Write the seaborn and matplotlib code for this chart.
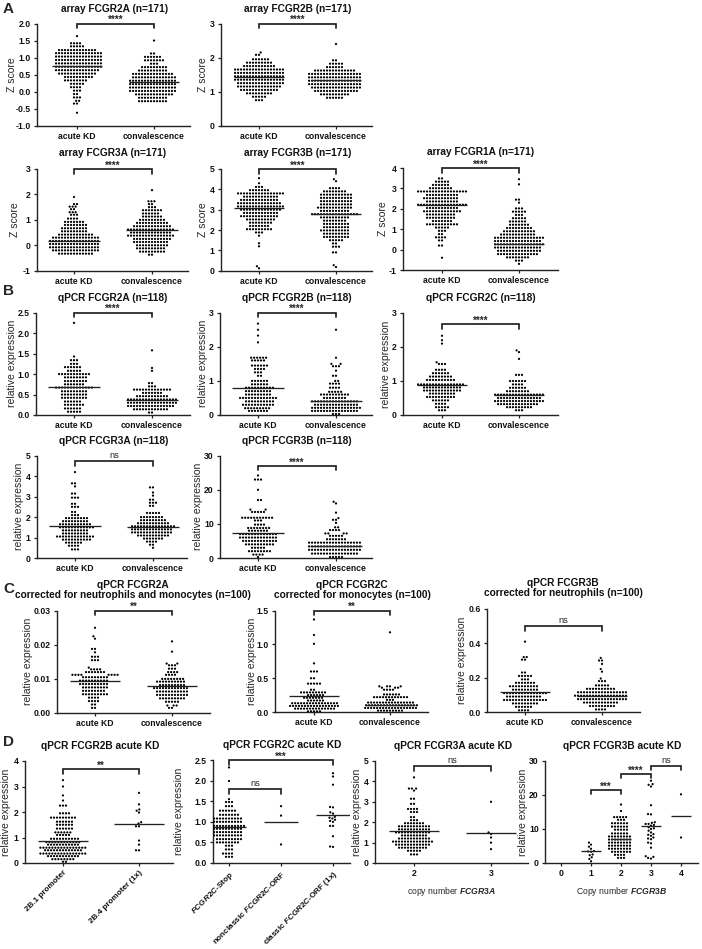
import warnings
import numpy as np
import pandas as pd
import matplotlib
matplotlib.use("Agg")
import matplotlib.pyplot as plt
import seaborn as sns

warnings.filterwarnings("ignore")

sns.set_style("ticks")
plt.rcParams['font.family'] = ['Liberation Sans', 'DejaVu Sans']
plt.rcParams['font.weight'] = 'bold'
plt.rcParams['mathtext.fontset'] = 'custom'
plt.rcParams['mathtext.it'] = 'Liberation Sans:italic:bold'
plt.rcParams['mathtext.rm'] = 'Liberation Sans:bold'

W, H = 702, 949

# ---- data: row value, number of dots in that row ----
# panel A
a2a_acute_v = [-0.62,-0.35,-0.27,-0.17,-0.07,0.03,0.13,0.23,0.33,0.43,0.53,0.63,0.73,0.83,0.93,1.03,1.13,1.22,1.33,1.42,1.63]
a2a_acute_n = [1,2,2,3,2,3,4,5,8,10,13,15,16,16,16,16,16,13,5,4,1]
a2a_conv_v = [-0.28,-0.18,-0.08,0.02,0.12,0.22,0.32,0.42,0.52,0.62,0.72,0.82,0.92,1.02,1.12,1.5]
a2a_conv_n = [10,10,13,16,16,16,16,15,14,10,9,3,7,6,2,1]
a2b_acute_v = [0.75,0.85,0.95,1.05,1.15,1.25,1.35,1.45,1.55,1.65,1.75,1.85,1.95,2.08,2.15]
a2b_acute_n = [3,5,9,13,15,16,17,17,17,17,11,9,6,2,1]
a2b_conv_v = [0.82,0.92,1.02,1.12,1.22,1.32,1.42,1.52,1.62,1.72,1.82,1.92,2.4]
a2b_conv_n = [6,10,15,17,18,18,18,18,14,6,5,2,1]
a3a_acute_v = [-0.33,-0.2,-0.08,0.05,0.17,0.3,0.42,0.55,0.67,0.8,0.92,1.05,1.2,1.3,1.42,1.52,1.62,1.9]
a3a_acute_n = [12,16,17,17,17,16,12,9,9,8,7,4,3,3,2,3,2,1]
a3a_conv_v = [-0.37,-0.25,-0.12,0.0,0.13,0.25,0.38,0.5,0.62,0.75,0.88,1.0,1.13,1.25,1.38,1.5,1.62,1.73,2.17]
a3a_conv_n = [2,9,10,11,12,13,16,14,16,13,11,9,7,6,7,3,2,3,1]
a3b_acute_v = [0.12,0.22,1.2,1.35,1.72,1.88,2.04,2.2,2.36,2.52,2.68,2.84,3.0,3.16,3.32,3.48,3.64,3.8,3.96,4.12,4.3,4.55]
a3b_acute_n = [1,1,1,1,1,3,9,7,8,10,13,12,14,16,15,13,12,16,7,3,1,1]
a3b_conv_v = [0.18,0.27,0.9,1.18,1.34,1.5,1.66,1.82,1.98,2.14,2.3,2.46,2.62,2.78,2.94,3.1,3.26,3.42,3.58,3.74,3.9,4.06,4.4,4.5]
a3b_conv_n = [1,1,2,3,2,5,9,9,10,9,9,8,10,16,10,12,11,11,11,11,8,4,1,1]
a1a_acute_v = [-0.4,0.2,0.45,0.6,0.76,0.92,1.08,1.24,1.4,1.56,1.72,1.88,2.04,2.2,2.36,2.52,2.68,2.85,3.01,3.17,3.33,3.49]
a1a_acute_n = [1,2,2,4,2,3,5,11,7,10,10,13,11,17,11,12,11,17,8,6,5,2]
a1a_conv_v = [-0.7,-0.54,-0.38,-0.22,-0.06,0.1,0.26,0.42,0.58,0.74,0.9,1.06,1.22,1.38,1.54,1.7,1.86,2.02,2.3,2.45,3.2,3.45]
a1a_conv_n = [1,3,8,14,15,16,17,16,17,12,11,9,7,6,5,3,5,3,1,2,1,1]

# panel B
q2a_acute_v = [0.08,0.16,0.25,0.33,0.42,0.5,0.58,0.67,0.75,0.83,0.92,1.0,1.08,1.17,1.25,1.34,1.43,2.25]
q2a_acute_n = [5,6,7,6,9,9,9,13,7,8,8,11,5,6,3,3,1,1]
q2a_conv_v = [0.06,0.14,0.22,0.3,0.38,0.46,0.54,0.62,0.7,0.78,1.08,1.15,1.58]
q2a_conv_n = [2,12,16,17,17,11,7,13,3,2,1,1,1]
q2b_acute_v = [0.12,0.2,0.3,0.4,0.5,0.6,0.7,0.8,0.9,1.0,1.15,1.25,1.35,1.45,1.6,1.68,2.13,2.33,2.5,2.68]
q2b_acute_n = [7,9,11,10,13,9,9,10,6,6,2,3,4,6,5,6,1,1,1,1]
q2b_conv_v = [0.03,0.12,0.21,0.3,0.4,0.5,0.6,0.68,0.8,0.92,1.0,1.15,1.3,1.43,1.5,1.68,2.5]
q2b_conv_n = [3,16,17,15,16,8,10,5,4,4,2,2,1,3,2,1,1]
q2c_acute_v = [0.14,0.23,0.33,0.43,0.53,0.63,0.72,0.81,0.9,1.03,1.13,1.23,1.33,1.5,1.55,2.1,2.2,2.33]
q2c_acute_n = [3,5,4,6,10,9,13,13,16,10,8,6,4,3,1,1,1,1]
q2c_conv_v = [0.14,0.23,0.32,0.41,0.5,0.6,0.7,0.8,0.9,1.0,1.18,1.65,1.85,1.9]
q2c_conv_n = [3,9,14,17,15,17,8,6,4,6,3,1,1,1]
q3a_acute_v = [0.42,0.6,0.75,0.9,1.05,1.2,1.35,1.5,1.65,1.8,1.95,2.1,2.25,2.5,2.65,2.95,3.15,3.5,3.65,4.2]
q3a_acute_n = [3,4,6,10,13,9,9,12,11,9,8,3,2,3,2,3,2,1,2,1]
q3a_conv_v = [0.5,0.65,0.8,0.95,1.1,1.25,1.4,1.55,1.7,1.85,2.0,2.2,2.55,2.7,2.85,3.05,3.2,3.45]
q3a_conv_n = [1,2,4,7,11,14,14,15,11,9,8,5,2,3,2,1,1,2]
q3b_acute_v = [0.3,1.0,2.0,3.0,4.0,5.0,6.0,7.0,8.0,8.8,9.8,11.0,11.8,13.5,14.2,17.0,20.0,23.0,24.2]
q3b_acute_n = [1,4,8,5,10,12,13,13,7,8,4,3,11,5,2,2,1,3,1]
q3b_conv_v = [0.3,1.3,2.4,3.4,4.5,5.5,6.5,7.2,8.2,9.0,10.3,11.2,11.7,13.3,16.0,16.5]
q3b_conv_n = [5,16,18,18,18,7,5,4,4,2,1,2,1,1,1,1]

# panel C
c2a_acute_v = [0.0015,0.0025,0.0035,0.0045,0.0055,0.0065,0.0075,0.0085,0.0095,0.0105,0.0112,0.012,0.0128,0.0133,0.0155,0.0165,0.0178,0.0188,0.0218,0.0225,0.025]
c2a_acute_n = [2,2,4,4,9,8,9,10,10,9,8,7,4,1,3,3,1,2,1,1,1]
c2a_conv_v = [0.0015,0.0022,0.0033,0.0043,0.0053,0.0063,0.0073,0.0082,0.0092,0.01,0.0112,0.012,0.013,0.014,0.0145,0.018,0.021]
c2a_conv_n = [2,3,5,9,11,11,12,9,10,8,4,4,3,3,2,1,1]
c2c_acute_v = [0.01,0.05,0.09,0.13,0.17,0.21,0.25,0.29,0.33,0.42,0.5,0.6,0.72,1.01,1.14,1.37]
c2c_acute_n = [5,14,17,16,6,7,6,9,2,5,2,3,1,1,1,1]
c2c_conv_v = [0.02,0.06,0.1,0.14,0.18,0.22,0.26,0.33,0.36,0.38,1.18]
c2c_conv_n = [9,18,18,16,3,12,6,4,3,4,1]
c3b_acute_v = [0.01,0.03,0.05,0.07,0.09,0.11,0.13,0.15,0.17,0.19,0.21,0.23,0.305,0.32,0.41]
c3b_acute_n = [4,6,9,15,12,15,9,10,7,3,5,2,2,2,1]
c3b_conv_v = [0.015,0.035,0.055,0.075,0.095,0.115,0.135,0.155,0.18,0.195,0.235,0.25,0.28,0.3,0.315]
c3b_conv_n = [4,9,12,17,18,17,10,5,3,1,1,1,1,2,1]

# panel D
d2b_21_v = [0.05,0.15,0.27,0.37,0.5,0.6,0.72,0.82,0.95,1.1,1.2,1.35,1.5,1.62,1.78,1.95,2.25,2.45,2.65,3.0,3.25]
d2b_21_n = [2,8,11,16,13,16,11,12,10,5,6,6,6,6,9,4,3,1,1,1,1]
d2b_24 = [0.5,0.5,0.72,0.88,1.44,1.44,1.55,1.6,1.98,2.05,2.1,2.3,2.75]
d2c_stop_v = [0.15,0.23,0.33,0.42,0.5,0.58,0.67,0.75,0.83,0.9,1.0,1.08,1.17,1.27,1.38,1.48,1.55,1.99,2.32]
d2c_stop_n = [3,4,3,3,8,9,10,10,10,11,10,10,7,6,3,3,1,1,1]
d2c_nonclassic = [0.45,1.15,1.38]
d2c_classic = [0.39,0.4,0.65,0.9,0.9,1.0,1.02,1.05,1.08,1.1,1.12,1.2,1.23,1.35,1.36,1.9,2.1,2.18]
d3a_2_v = [0.42,0.6,0.75,0.9,1.05,1.2,1.35,1.5,1.65,1.8,1.95,2.1,2.25,2.5,2.65,2.9,3.15,3.55,3.65,4.2]
d3a_2_n = [3,5,10,12,14,11,9,12,11,11,7,3,2,3,4,2,2,1,3,1]
d3a_3 = [0.68,1.0,1.25,1.42,1.5,3.0]
d3b_1 = [0.5,1.2,1.7,2.3,2.5,3.3,3.4,3.5,4.2,4.8,5.4,6.0]
d3b_2_v = [1.5,2.4,3.3,4.2,5.1,6.0,6.9,7.8,8.7,9.8,10.7,11.7,12.7,13.5,15.3,17.2]
d3b_2_n = [3,4,7,8,8,8,8,8,6,5,6,6,3,5,1,1]
d3b_3 = [1.3,1.5,1.8,2,4.5,5.8,6,7,7.2,7.5,8,8.3,8.5,9,9.5,10,10.2,10.5,11,11.2,11.5,11.5,11.8,12,14.3,14.4,17,22.5,23,23.2,24.2]
d3b_4 = [7.5,20.2]

acute_conv = ["acute KD", "convalescence"]
rel = "relative expression"


def rows(v, n):
    return np.repeat(v, n)


# box = left, right, top, bottom in pixels; cats = first and second tick in pixels
panels = [
 dict(box=(37,190,23.5,125.7), cats=(77,154), ylim=(-1,2), yticks=[-1,-.5,0,.5,1,1.5,2], fmt="%.1f", ylab="Z score", lx=14,
      title="array FCGR2A (n=171)", tpos=(115,9), groups=[rows(a2a_acute_v,a2a_acute_n),rows(a2a_conv_v,a2a_conv_n)], means=[.76,.27],
      br=[(0,1,2,"****")]),
 dict(box=(221,372,23.5,125.7), cats=(259,336), ylim=(0,3), yticks=[0,1,2,3], fmt="%d", ylab="Z score", lx=205,
      title="array FCGR2B (n=171)", tpos=(298,9), groups=[rows(a2b_acute_v,a2b_acute_n),rows(a2b_conv_v,a2b_conv_n)], means=[1.43,1.33],
      br=[(0,1,3,"****")]),
 dict(box=(37,188,169,270.7), cats=(74,152), ylim=(-1,3), yticks=[-1,0,1,2,3], fmt="%d", ylab="Z score", lx=17,
      title="array FCGR3A (n=171)", tpos=(113,153), groups=[rows(a3a_acute_v,a3a_acute_n),rows(a3a_conv_v,a3a_conv_n)], means=[.17,.6],
      br=[(0,1,3,"****")]),
 dict(box=(221,372,169,270.7), cats=(259,336), ylim=(0,5), yticks=[0,1,2,3,4,5], fmt="%d", ylab="Z score", lx=205,
      title="array FCGR3B (n=171)", tpos=(298,153), groups=[rows(a3b_acute_v,a3b_acute_n),rows(a3b_conv_v,a3b_conv_n)], means=[3.1,2.78],
      br=[(0,1,5,"****")]),
 dict(box=(403,558,168,270), cats=(442,519), ylim=(-1,4), yticks=[-1,0,1,2,3,4], fmt="%d", ylab="Z score", lx=385,
      title="array FCGR1A (n=171)", tpos=(481,152), groups=[rows(a1a_acute_v,a1a_acute_n),rows(a1a_conv_v,a1a_conv_n)], means=[2.18,.27],
      br=[(0,1,4,"****")]),
 dict(box=(36,190,312.7,415), cats=(74,152), ylim=(0,2.5), yticks=[0,.5,1,1.5,2,2.5], fmt="%.1f", ylab=rel, lx=14,
      title="qPCR FCGR2A (n=118)", tpos=(113,298), groups=[rows(q2a_acute_v,q2a_acute_n),rows(q2a_conv_v,q2a_conv_n)], means=[.68,.36],
      br=[(0,1,2.5,"****")]),
 dict(box=(220,372,312.7,415), cats=(258,336), ylim=(0,3), yticks=[0,1,2,3], fmt="%d", ylab=rel, lx=205,
      title="qPCR FCGR2B (n=118)", tpos=(297,298), groups=[rows(q2b_acute_v,q2b_acute_n),rows(q2b_conv_v,q2b_conv_n)], means=[.78,.4],
      br=[(0,1,3,"****")]),
 dict(box=(403,558,313,415), cats=(442,519), ylim=(0,3), yticks=[0,1,2,3], fmt="%d", ylab=rel, lx=388,
      title="qPCR FCGR2C (n=118)", tpos=(481,298), groups=[rows(q2c_acute_v,q2c_acute_n),rows(q2c_conv_v,q2c_conv_n)], means=[.87,.6],
      br=[(0,1,2.67,"****")]),
 dict(box=(37,187,455.7,558), cats=(75,153), ylim=(0,5), yticks=[0,1,2,3,4,5], fmt="%d", ylab=rel, lx=21,
      title="qPCR FCGR3A (n=118)", tpos=(114,441), groups=[rows(q3a_acute_v,q3a_acute_n),rows(q3a_conv_v,q3a_conv_n)], means=[1.55,1.5],
      br=[(0,1,4.74,"ns")]),
 dict(box=(220,372,455.7,558), cats=(258,336), ylim=(0,30), yticks=[0,10,20,30], fmt="%d", ylab=rel, lx=200,
      title="qPCR FCGR3B (n=118)", tpos=(297,441), groups=[rows(q3b_acute_v,q3b_acute_n),rows(q3b_conv_v,q3b_conv_n)], means=[7.4,3.6],
      br=[(0,1,27,"****")]),
 dict(box=(57,210,610.7,713), cats=(95,172), ylim=(0,.03), yticks=[0,.01,.02,.03], fmt="%.2f", ylab=rel, lx=30,
      title="qPCR FCGR2A\ncorrected for neutrophils and monocytes (n=100)", tpos=(133,590), groups=[rows(c2a_acute_v,c2a_acute_n),rows(c2a_conv_v,c2a_conv_n)], means=[.0095,.0078],
      br=[(0,1,.03,"**")]),
 dict(box=(275,428,610.7,712), cats=(314,390), ylim=(0,1.5), yticks=[0,.5,1,1.5], fmt="%.1f", ylab=rel, lx=254,
      title="qPCR FCGR2C\ncorrected for monocytes (n=100)", tpos=(352,590), groups=[rows(c2c_acute_v,c2c_acute_n),rows(c2c_conv_v,c2c_conv_n)], means=[.23,.1],
      br=[(0,1,1.5,"**")]),
 dict(box=(487,640,609,712), cats=(525,602), ylim=(0,.6), yticks=[0,.2,.4,.6], fmt="%.1f", ylab=rel, lx=464,
      title="qPCR FCGR3B\ncorrected for neutrophils (n=100)", tpos=(563,588), groups=[rows(c3b_acute_v,c3b_acute_n),rows(c3b_conv_v,c3b_conv_n)], means=[.115,.095],
      br=[(0,1,.5,"ns")]),
 dict(box=(25,173,761,863), cats=(63,139), ylim=(0,4), yticks=[0,1,2,3,4], fmt="%d", ylab=rel, lx=8,
      title="qPCR FCGR2B acute KD", tpos=(100,746), groups=[rows(d2b_21_v,d2b_21_n),d2b_24], means=[.88,1.53],
      br=[(0,1,3.67,"**")], labels=["2B.1 promoter","2B.4 promoter (1x)"], rot=45),
 dict(box=(213,350,760,863), cats=(229,281), ylim=(0,2.5), yticks=[0,.5,1,1.5,2,2.5], fmt="%.1f", ylab=rel, lx=181,
      title="qPCR FCGR2C acute KD", tpos=(282,745), groups=[rows(d2c_stop_v,d2c_stop_n),d2c_nonclassic,d2c_classic], means=[.87,1.0,1.17],
      br=[(0,2,2.5,"***"),(0,1,1.79,"ns")],
      labels=[r"$\mathit{FCGR2C}$-Stop",r"nonclassic $\mathit{FCGR2C}$-ORF",r"classic $\mathit{FCGR2C}$-ORF (1x)"], rot=45),
 dict(box=(375,528,761,863), cats=(414,491), ylim=(0,5), yticks=[0,1,2,3,4,5], fmt="%d", ylab=rel, lx=359,
      title="qPCR FCGR3A acute KD", tpos=(453,746), groups=[rows(d3a_2_v,d3a_2_n),d3a_3], means=[1.57,1.47],
      br=[(0,1,4.75,"ns")], labels=["2","3"], xlabel=r"copy number $\mathit{FCGR3A}$"),
 dict(box=(545,698,761,863), cats=(561,591), ylim=(0,30), yticks=[0,10,20,30], fmt="%d", ylab=rel, lx=525,
      title="qPCR FCGR3B acute KD", tpos=(622,746), groups=[[],d3b_1,rows(d3b_2_v,d3b_2_n),d3b_3,d3b_4], means=[None,3.4,7,10.8,13.8],
      br=[(1,2,21.5,"***"),(2,3,26.2,"****"),(3,4,28.6,"ns")], labels=["0","1","2","3","4"], xlabel=r"Copy number $\mathit{FCGR3B}$"),
]

letters = [("A",3,9),("B",3,291),("C",3,589),("D",3,742)]
dark = "#222222"

fig = plt.figure(figsize=(W/100, H/100), dpi=100)

for p in panels:
    l, r, t, b = p['box']
    ax = fig.add_axes([l/W, 1-b/H, (r-l)/W, (b-t)/H])
    labels = p.get('labels', acute_conv)
    frames = [pd.DataFrame({'group': lab, 'value': np.asarray(g, dtype=float)}) for lab, g in zip(labels, p['groups'])]
    df = pd.concat(frames, ignore_index=True)
    # the edge width only widens the gap between dots, it is not drawn
    sns.swarmplot(data=df, x='group', y='value', order=labels, color='black', size=1.6,
                  linewidth=0.45, edgecolor='none', ax=ax, legend=False)
    step = p['cats'][1]-p['cats'][0]
    ax.set_xlim((l-p['cats'][0])/step, (r-p['cats'][0])/step)
    ax.set_ylim(*p['ylim'])
    for i, m in enumerate(p['means']):
        if m is not None:
            ax.plot([i-.33, i+.33], [m, m], color=dark, lw=0.95, solid_capstyle='butt', zorder=4)
    ydrop = (p['ylim'][1]-p['ylim'][0])*4.5/(b-t)
    for x0, x1, y, s in p['br']:
        ax.plot([x0, x0, x1, x1], [y-ydrop, y, y, y-ydrop], color=dark, lw=1.25, clip_on=False, zorder=5,
                solid_joinstyle='miter')
        if s == "ns":
            ax.text((x0+x1)/2, y+(p['ylim'][1]-p['ylim'][0])*1.2/(b-t), s, ha='center', va='bottom', fontsize=6.6,
                    fontweight='normal', clip_on=False)
        else:
            ax.text((x0+x1)/2, y-(p['ylim'][1]-p['ylim'][0])*1.5/(b-t), s, ha='center', va='bottom', fontsize=7,
                    fontweight='bold', clip_on=False)
    ax.set_yticks(p['yticks'])
    ax.set_yticklabels([p['fmt'] % v for v in p['yticks']], fontsize=6.2)
    ax.set_xticks(range(len(labels)))
    if p.get('rot'):
        ax.set_xticklabels(labels, rotation=p['rot'], ha='right', rotation_mode='anchor', fontsize=5.9)
    else:
        ax.set_xticklabels(labels, fontsize=6.2)
    ax.tick_params(axis='both', length=2.5, width=0.9, color=dark, pad=2.0, labelcolor='#111111')
    ax.set_xlabel(p.get('xlabel', ''), fontsize=6.2, labelpad=5)
    ax.set_ylabel(p['ylab'], fontsize=7.5)
    ax.yaxis.set_label_coords((p['lx']+3-l)/(r-l), 0.5)
    for side in ['top', 'right']:
        ax.spines[side].set_visible(False)
    for side in ['left', 'bottom']:
        ax.spines[side].set_linewidth(1.0)
        ax.spines[side].set_color(dark)
    fig.text(p['tpos'][0]/W, 1-p['tpos'][1]/H, p['title'], ha='center', va='center', fontsize=7.25,
             fontweight='bold', linespacing=1.05, color='#111111')

for s, x, y in letters:
    fig.text(x/W, 1-y/H, s, fontsize=11, fontweight='bold', ha='left', va='center')

fig.savefig("out.png", dpi=100)
